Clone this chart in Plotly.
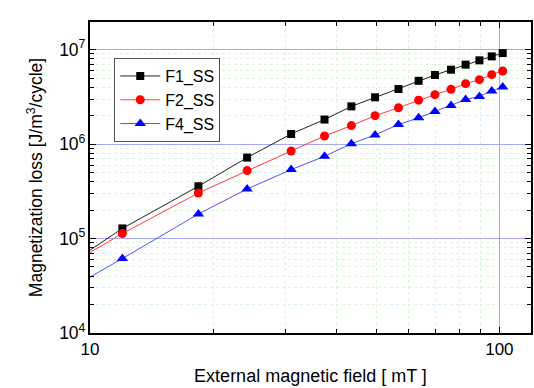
import plotly.graph_objects as go

# External magnetic field [mT] (first value lies left of the visible axis; only its line segment shows)
field = [6, 12, 18.4, 24.2, 31.0, 37.4, 43.5, 49.7, 56.7, 63.5, 69.6, 76.2, 82.7, 89.4, 95.8, 101.9]

# Magnetization loss [J/m^3/cycle]
f1_ss = [1.71e4, 1.28e5, 3.58e5, 7.2e5, 1.28e6, 1.82e6, 2.51e6, 3.13e6, 3.83e6, 4.68e6,
         5.39e6, 6.14e6, 6.94e6, 7.71e6, 8.49e6, 9.2e6]
f2_ss = [1.95e4, 1.13e5, 3.04e5, 5.24e5, 8.45e5, 1.22e6, 1.57e6, 2.0e6, 2.43e6, 2.92e6,
         3.34e6, 3.80e6, 4.37e6, 4.81e6, 5.44e6, 5.94e6]
f4_ss = [1.11e4, 6.14e4, 1.82e5, 3.35e5, 5.37e5, 7.43e5, 1.01e6, 1.25e6, 1.61e6, 1.90e6,
         2.22e6, 2.57e6, 2.96e6, 3.20e6, 3.65e6, 4.02e6]

series = [
    ("F1_SS", f1_ss, "#202020", "#000000", "square", 8),
    ("F2_SS", f2_ss, "#ff3c3c", "#ff0000", "circle", 9),
    ("F4_SS", f4_ss, "#5050ff", "#0000ff", "triangle-up", 10),
]

FONT = "Liberation Sans, Arial, sans-serif"

fig = go.Figure()
for name, vals, lcol, mcol, sym, size in series:
    fig.add_trace(go.Scatter(
        x=field, y=vals, name=name, mode="lines+markers",
        line=dict(color=lcol, width=1),
        marker=dict(symbol=sym, size=size, color=mcol, line=dict(width=0)),
    ))

major_grid = "#a8a8f8"
minor_grid = "#dcf3dc"

fig.update_layout(
    width=534, height=388,
    margin=dict(l=90, r=1, t=22, b=55),
    paper_bgcolor="white", plot_bgcolor="white",
    font=dict(family=FONT, size=17, color="black"),
    showlegend=True,
    legend=dict(
        x=0.055, y=0.884, xanchor="left", yanchor="top",
        bgcolor="white", bordercolor="#505050", borderwidth=1,
        font=dict(family=FONT, size=16, color="black"),
        tracegroupgap=0, itemwidth=40,
    ),
    xaxis=dict(
        type="log", range=[1, 2.0773],
        tickmode="linear", tick0=0, dtick=1,
        ticks="inside", ticklen=6, tickwidth=1, tickcolor="black",
        showline=True, linecolor="black", linewidth=1.5, mirror="allticks",
        showgrid=True, gridcolor=major_grid, gridwidth=1,
        zeroline=False,
        tickfont=dict(family=FONT, size=17, color="black"),
        minor=dict(dtick="D1", ticks="inside", ticklen=4, tickcolor="black",
                   showgrid=True, gridcolor=minor_grid, griddash="dot", gridwidth=1),
        title=dict(text="External magnetic field [ mT ]", standoff=11,
                   font=dict(family=FONT, size=18, color="black")),
    ),
    yaxis=dict(
        type="log", range=[4, 7.293],
        tickmode="linear", tick0=0, dtick=1, exponentformat="power",
        ticks="inside", ticklen=6, tickwidth=1, tickcolor="black",
        showline=True, linecolor="black", linewidth=1.5, mirror="allticks",
        showgrid=True, gridcolor=major_grid, gridwidth=1,
        zeroline=False,
        tickfont=dict(family=FONT, size=14, color="black"),
        minor=dict(dtick="D1", ticks="inside", ticklen=4, tickcolor="black",
                   showgrid=True, gridcolor=minor_grid, griddash="dot", gridwidth=1),
        title=dict(text="Magnetization loss [J/m<sup>3</sup>/cycle]", standoff=12,
                   font=dict(family=FONT, size=17.5, color="black")),
    ),
)

fig.write_html("out.html")
